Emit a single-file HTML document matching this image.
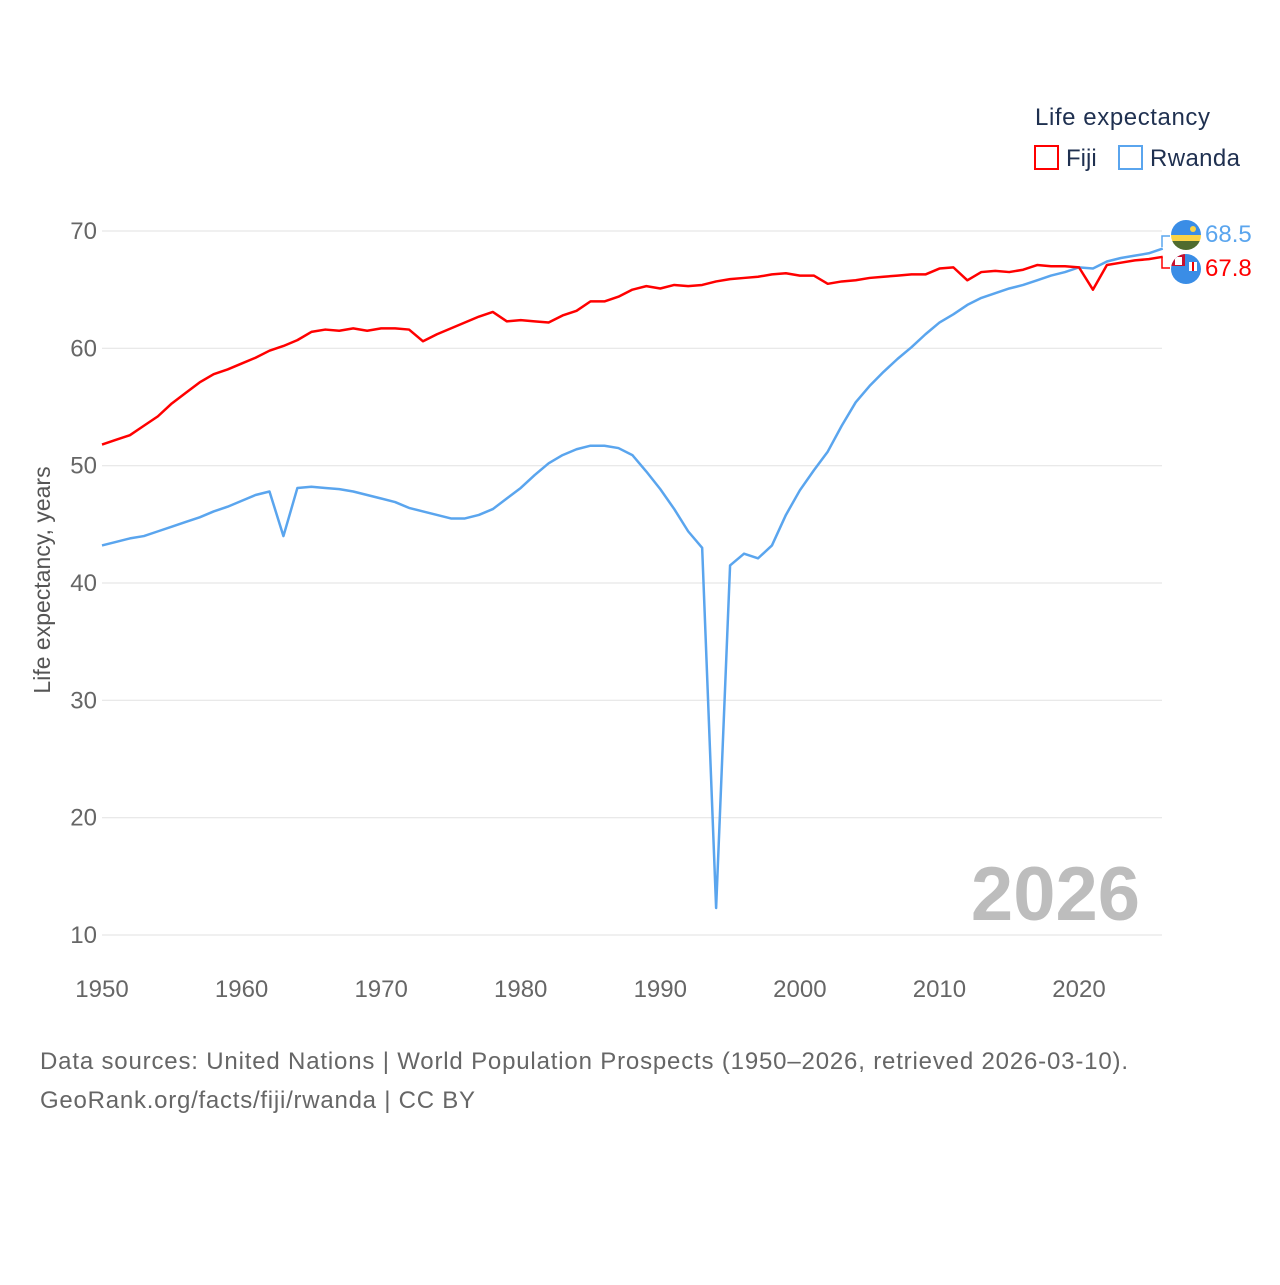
<!DOCTYPE html>
<html><head><meta charset="utf-8"><style>
body{margin:0;background:#fff;width:1280px;height:1280px;overflow:hidden;font-family:"Liberation Sans",sans-serif}
</style></head><body>
<svg width="1280" height="1280" font-family="Liberation Sans, sans-serif">
<g id="grid"></g>
<g id="ticks"></g>
<text transform="translate(50,580) rotate(-90)" text-anchor="middle" font-size="23" fill="#555">Life expectancy, years</text>
<text x="1140" y="920" text-anchor="end" font-size="76" font-weight="bold" fill="#bdbdbd">2026</text>
<g>
<text x="1035" y="125" font-size="24" fill="#1f3050" textLength="175">Life expectancy</text>
<g><rect x="1035" y="146" width="23" height="23" fill="none" stroke="#f00" stroke-width="2"/><text x="1066" y="166" font-size="24" fill="#1f3050">Fiji</text></g>
<g><rect x="1119" y="146" width="23" height="23" fill="none" stroke="#5aa5ee" stroke-width="2"/><text x="1150" y="166" font-size="24" fill="#1f3050" textLength="90">Rwanda</text></g>
</g>
<g id="series"></g>
<g>
<polyline points="1162,247 1162,236 1170,236" fill="none" stroke="#5aa5ee" stroke-width="1.5"/>
<polyline points="1162,258 1162,268 1170,268" fill="none" stroke="#f00" stroke-width="1.5"/>
<g><clipPath id="c1"><circle cx="1186" cy="235" r="15"/></clipPath><g clip-path="url(#c1)"><rect x="1171" y="220" width="30" height="15" fill="#3a8de6"/><rect x="1171" y="235" width="30" height="6" fill="#fad345"/><rect x="1171" y="241" width="30" height="9" fill="#4f6b2e"/><circle cx="1193" cy="229" r="3" fill="#fad345"/></g></g>
<g><clipPath id="c2"><circle cx="1186" cy="269" r="15"/></clipPath><g clip-path="url(#c2)"><rect x="1171" y="254" width="30" height="30" fill="#3a8de6"/><rect x="1171" y="254" width="14" height="12" fill="#c8102e"/><rect x="1175" y="257" width="7" height="8" fill="#fff"/><rect x="1189" y="262" width="8" height="9" fill="#fff"/><rect x="1192" y="262" width="2" height="9" fill="#e00"/></g></g>
<text x="1205" y="242" font-size="24" fill="#5aa5ee">68.5</text>
<text x="1205" y="276" font-size="24" fill="#f00">67.8</text>
</g>
<text x="40" y="1069" font-size="24" fill="#666" textLength="1088">Data sources: United Nations | World Population Prospects (1950–2026, retrieved 2026-03-10).</text>
<text x="40" y="1108" font-size="24" fill="#666" textLength="435">GeoRank.org/facts/fiji/rwanda | CC BY</text>
</svg>
<script>
const years=[];for(let y=1950;y<=2026;y++)years.push(y);
const fiji=[51.8,52.2,52.6,53.4,54.2,55.3,56.2,57.1,57.8,58.2,58.7,59.2,59.8,60.2,60.7,61.4,61.6,61.5,61.7,61.5,61.7,61.7,61.6,60.6,61.2,61.7,62.2,62.7,63.1,62.3,62.4,62.3,62.2,62.8,63.2,64.0,64.0,64.4,65.0,65.3,65.1,65.4,65.3,65.4,65.7,65.9,66.0,66.1,66.3,66.4,66.2,66.2,65.5,65.7,65.8,66.0,66.1,66.2,66.3,66.3,66.8,66.9,65.8,66.5,66.6,66.5,66.7,67.1,67.0,67.0,66.9,65.0,67.1,67.3,67.5,67.6,67.8];
const rwanda=[43.2,43.5,43.8,44.0,44.4,44.8,45.2,45.6,46.1,46.5,47.0,47.5,47.8,44.0,48.1,48.2,48.1,48.0,47.8,47.5,47.2,46.9,46.4,46.1,45.8,45.5,45.5,45.8,46.3,47.2,48.1,49.2,50.2,50.9,51.4,51.7,51.7,51.5,50.9,49.5,48.0,46.3,44.4,43.0,12.3,41.5,42.5,42.1,43.2,45.8,47.9,49.6,51.2,53.4,55.4,56.8,58.0,59.1,60.1,61.2,62.2,62.9,63.7,64.3,64.7,65.1,65.4,65.8,66.2,66.5,66.9,66.8,67.4,67.7,67.9,68.1,68.5];
const yTicks=[10,20,30,40,50,60,70];
const xTicks=[1950,1960,1970,1980,1990,2000,2010,2020];
const X=y=>102+(y-1950)*(1079-102)/70;
const Y=v=>231+(70-v)*(935-231)/60;
const NS='http://www.w3.org/2000/svg';
const grid=document.getElementById('grid'),ticks=document.getElementById('ticks'),series=document.getElementById('series');
yTicks.forEach(t=>{
 const l=document.createElementNS(NS,'line');
 
 
 l.setAttribute('x1',102);l.setAttribute('x2',1162);l.setAttribute('y1',Y(t));l.setAttribute('y2',Y(t));
 l.setAttribute('stroke','#e6e6e6');l.setAttribute('stroke-width','1.2');grid.appendChild(l);
 const tx=document.createElementNS(NS,'text');
 
 
 tx.setAttribute('x',97);tx.setAttribute('y',Y(t)+8);tx.setAttribute('text-anchor','end');
 tx.setAttribute('font-size','24');tx.setAttribute('fill','#666');tx.textContent=t;ticks.appendChild(tx);
});
xTicks.forEach(t=>{
 const tx=document.createElementNS(NS,'text');
 
 
 tx.setAttribute('x',X(t));tx.setAttribute('y',997);tx.setAttribute('text-anchor','middle');
 tx.setAttribute('font-size','24');tx.setAttribute('fill','#666');tx.textContent=t;ticks.appendChild(tx);
});
function line(vals,color,name){
 const p=document.createElementNS(NS,'polyline');
 
 
 p.setAttribute('points',vals.map((v,i)=>X(years[i])+','+Y(v)).join(' '));
 p.setAttribute('fill','none');p.setAttribute('stroke',color);p.setAttribute('stroke-width','2.5');
 p.setAttribute('stroke-linejoin','round');series.appendChild(p);
}
line(rwanda,'#5aa5ee','rwanda-line');
line(fiji,'#ff0000','fiji-line');
</script>
</body></html>
